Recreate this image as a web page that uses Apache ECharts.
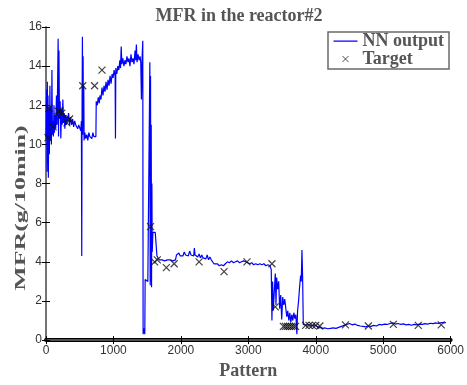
<!DOCTYPE html>
<html>
<head>
<meta charset="utf-8">
<script src="https://cdn.jsdelivr.net/npm/echarts@6/dist/echarts.min.js"></script>
<style>
  html, body { margin: 0; padding: 0; background: #fff; }
  #chart { width: 467px; height: 385px; }
</style>
</head>
<body>
<div id="chart"></div>
<script>
// NN output as [pattern, MFR]
const nnOutput = [
  [0, 10.3], [10, 12.8], [15, 8.6], [20, 13.2], [25, 9.0], [30, 12.5], [35, 8.3], [42, 11.8],
  [50, 9.5], [58, 13.0], [65, 10.2], [72, 11.9], [80, 10.0], [88, 13.8], [95, 10.5], [102, 11.2],
  [110, 10.4], [118, 12.0], [125, 10.6], [135, 11.5], [145, 10.8], [155, 12.5], [165, 11.0],
  [175, 14.0], [180, 15.4], [186, 10.4], [192, 14.8], [200, 11.3], [210, 12.2], [220, 10.3],
  [230, 11.8], [240, 11.0], [250, 12.3], [260, 11.1], [270, 11.6], [280, 10.8], [290, 11.5],
  [300, 11.0], [310, 11.4], [320, 11.2], [335, 11.6], [350, 11.0], [365, 11.4], [380, 11.0],
  [395, 11.3], [410, 10.9], [425, 11.2], [440, 11.0], [455, 11.1], [470, 10.8], [485, 11.0],
  [500, 10.9], [515, 10.7], [525, 11.2], [530, 4.3], [535, 12.0], [540, 15.5], [545, 10.5],
  [550, 14.5], [555, 11.0], [560, 13.0], [565, 10.2], [575, 10.6], [590, 10.3], [605, 10.5],
  [620, 10.2], [635, 10.6], [650, 10.4], [665, 10.5], [680, 10.3], [695, 10.6], [710, 10.4],
  [725, 10.5], [740, 10.4], [745, 12.2], [760, 12.0], [775, 12.4], [790, 12.1], [800, 12.5],
  [815, 12.3], [830, 12.9], [845, 12.5], [860, 13.0], [875, 12.7], [890, 13.2], [905, 12.8],
  [920, 13.3], [935, 13.0], [950, 13.5], [965, 13.1], [980, 13.6], [995, 13.4], [1010, 13.8],
  [1025, 13.5], [1030, 10.3], [1035, 13.9], [1050, 13.6], [1065, 14.0], [1080, 13.8], [1095, 14.3],
  [1105, 13.9], [1115, 15.0], [1125, 14.1], [1140, 14.4], [1155, 14.0], [1170, 14.3], [1185, 14.1],
  [1200, 14.5], [1215, 14.2], [1230, 14.4], [1245, 14.0], [1260, 14.6], [1275, 14.2], [1290, 14.4],
  [1305, 14.1], [1320, 14.8], [1330, 14.3], [1340, 15.1], [1350, 14.2], [1365, 14.6], [1380, 14.3],
  [1395, 14.5], [1405, 14.2], [1415, 12.3], [1425, 14.4], [1435, 15.3], [1440, 0.3], [1455, 0.6],
  [1465, 0.3], [1470, 3.1], [1490, 3.2], [1510, 3.0], [1530, 3.1], [1540, 14.2], [1545, 2.8],
  [1550, 13.5], [1555, 3.0], [1560, 11.0], [1565, 2.7], [1570, 8.0], [1575, 4.5], [1585, 5.5],
  [1600, 5.5], [1620, 5.5], [1635, 5.4], [1645, 4.3], [1660, 4.2], [1680, 4.1], [1700, 4.2],
  [1720, 4.1], [1740, 4.15], [1760, 4.05], [1780, 4.15], [1800, 4.1], [1820, 4.2], [1840, 4.1],
  [1860, 4.15], [1880, 4.05], [1900, 4.15], [1920, 4.1], [1935, 4.35], [1950, 4.3], [1970, 4.45],
  [1990, 4.3], [2010, 4.4], [2030, 4.3], [2050, 4.5], [2070, 4.35], [2090, 4.4], [2110, 4.3],
  [2130, 4.55], [2150, 4.35], [2170, 4.45], [2190, 4.3], [2200, 4.7], [2210, 4.35], [2230, 4.4],
  [2250, 4.25], [2270, 4.4], [2290, 4.2], [2310, 4.35], [2330, 4.2], [2350, 4.3], [2370, 4.15],
  [2390, 4.35], [2410, 4.1], [2430, 4.25], [2450, 4.1], [2470, 4.0], [2490, 3.9], [2510, 3.85],
  [2540, 3.9], [2570, 3.8], [2600, 3.85], [2630, 3.8], [2660, 3.9], [2690, 4.0], [2720, 3.95],
  [2750, 4.05], [2780, 3.95], [2810, 4.0], [2840, 4.05], [2870, 3.95], [2900, 4.0], [2930, 4.05],
  [2960, 4.0], [2990, 3.95], [3020, 3.9], [3050, 3.95], [3080, 3.85], [3110, 3.9], [3140, 3.85],
  [3170, 3.9], [3200, 3.85], [3230, 3.9], [3260, 3.8], [3290, 3.85], [3320, 3.8], [3340, 3.6],
  [3350, 1.0], [3360, 3.0], [3370, 1.5], [3385, 2.5], [3400, 3.4], [3410, 1.8], [3420, 3.2],
  [3435, 2.6], [3450, 3.0], [3465, 1.6], [3480, 2.3], [3495, 1.05], [3510, 2.2], [3525, 1.8],
  [3540, 2.1], [3555, 2.0], [3570, 1.2], [3585, 1.5], [3600, 1.0], [3615, 1.4], [3630, 0.9],
  [3645, 1.3], [3660, 1.0], [3675, 1.4], [3690, 1.1], [3705, 1.3], [3720, 0.3], [3730, 1.5],
  [3745, 2.0], [3760, 2.7], [3775, 3.3], [3785, 3.0], [3795, 4.6], [3805, 3.2], [3815, 0.8],
  [3830, 0.8], [3860, 0.75], [3900, 0.8], [3940, 0.72], [3980, 0.78], [4020, 0.7], [4060, 0.65],
  [4100, 0.6], [4140, 0.62], [4180, 0.58], [4220, 0.6], [4260, 0.62], [4300, 0.6], [4340, 0.65],
  [4380, 0.7], [4420, 0.75], [4460, 0.8], [4500, 0.85], [4540, 0.78], [4580, 0.82], [4620, 0.75],
  [4660, 0.72], [4700, 0.7], [4740, 0.68], [4780, 0.72], [4820, 0.7], [4860, 0.75], [4900, 0.72],
  [4940, 0.8], [4980, 0.78], [5020, 0.82], [5060, 0.8], [5100, 0.85], [5140, 0.88], [5180, 0.82],
  [5220, 0.85], [5260, 0.8], [5300, 0.83], [5340, 0.78], [5380, 0.8], [5420, 0.76], [5460, 0.8],
  [5500, 0.78], [5540, 0.82], [5580, 0.8], [5620, 0.84], [5660, 0.82], [5700, 0.86], [5740, 0.84],
  [5780, 0.88], [5820, 0.85], [5860, 0.9], [5900, 0.88], [5930, 0.9]
]

// measured targets
const target = [
  [30, 10.35], [45, 11.85], [105, 10.9], [180, 11.7], [205, 11.7], [235, 11.6], [310, 11.1],
  [350, 11.3], [545, 13.0], [720, 13.0], [830, 13.8], [1550, 5.8], [1610, 4.0], [1650, 4.1],
  [1785, 3.7], [1900, 3.9], [2270, 4.0], [2640, 3.5], [2980, 4.0], [3350, 3.9], [3400, 1.7],
  [3520, 0.7], [3550, 0.7], [3580, 0.7], [3610, 0.7], [3640, 0.7], [3670, 0.7], [3700, 0.7],
  [3850, 0.75], [3900, 0.75], [3950, 0.75], [4000, 0.75], [4060, 0.72], [4440, 0.78],
  [4780, 0.72], [5150, 0.8], [5520, 0.75], [5860, 0.78]
]

const seriesNames = ['NN output', 'Target']
const xTicks = [0, 1000, 2000, 3000, 4000, 5000, 6000]
const yTicks = [0, 2, 4, 6, 8, 10, 12, 14, 16]

const crossPath = 'path://M0,0L10,10M10,0L0,10'
const serif = '"Liberation Serif", "Times New Roman", serif'
const sans = '"Liberation Sans", Arial, sans-serif'
const frame = '#6a6a6a'

const chart = echarts.init(document.getElementById('chart'))

chart.setOption({
  animation: false,
  backgroundColor: '#fff',
  title: {
    text: 'MFR in the reactor#2',
    left: 234,
    top: 2,
    textAlign: 'center',
    textStyle: { fontFamily: serif, fontSize: 18, fontWeight: 'bold', color: '#555' },
  },
  // y label in the picture is stretched along its length
  graphic: [{
    type: 'text',
    x: 21,
    y: 208,
    rotation: Math.PI / 2,
    scaleX: 1.85,
    style: {
      text: 'MFR(g/10min)',
      fontFamily: serif,
      fontSize: 14,
      fontWeight: 'bold',
      fill: '#555',
      align: 'center',
      verticalAlign: 'middle',
    },
  }],
  grid: { left: 46, right: 14, top: 27, bottom: 37 },
  legend: {
    orient: 'vertical',
    left: 328,
    top: 32,
    padding: [0, 5, 1, 3],
    itemGap: 0,
    itemWidth: 24,
    itemHeight: 10,
    borderColor: frame,
    borderWidth: 1.5,
    borderRadius: 0,
    backgroundColor: '#fff',
    textStyle: { fontFamily: serif, fontSize: 18, lineHeight: 16, fontWeight: 'bold', color: '#555', padding: [0, 0, 0, 0] },
    data: [
      { name: seriesNames[0], icon: 'path://M0,0h0.01v0.01h-0.01zM0,4.4h24v1.3h-24zM0,10h0.01v0.01h-0.01z', itemStyle: { color: '#0000ff' } },
      { name: seriesNames[1], icon: 'path://M0,0h0.01v0.01h-0.01zM9,2L15,8M15,2L9,8M24,10h0.01v0.01h-0.01z', itemStyle: { color: 'none', borderColor: '#222', borderWidth: 1 } },
    ],
  },
  xAxis: [
    {
      type: 'value',
      min: xTicks[0],
      max: xTicks[xTicks.length - 1],
      interval: 1000,
      name: 'Pattern',
      nameLocation: 'middle',
      nameGap: 21,
      nameTextStyle: { fontFamily: serif, fontSize: 18, fontWeight: 'bold', color: '#555' },
      axisLine: { lineStyle: { color: '#000', width: 4 } },
      axisTick: { inside: true, length: 4, lineStyle: { color: '#000' } },
      axisLabel: { fontFamily: sans, fontSize: 12, color: '#333', margin: 5, formatter: (v) => String(v) },
      splitLine: { show: false },
    },
    {
      type: 'value',
      position: 'top',
      min: xTicks[0],
      max: xTicks[xTicks.length - 1],
      interval: 1000,
      axisLine: { lineStyle: { color: frame, width: 1.5 } },
      axisTick: { inside: true, length: 4, lineStyle: { color: '#000' } },
      axisLabel: { show: false },
      splitLine: { show: false },
    },
  ],
  yAxis: [
    {
      type: 'value',
      min: yTicks[0],
      max: yTicks[yTicks.length - 1],
      interval: 2,
      axisLine: { show: true, lineStyle: { color: frame, width: 1.5 } },
      axisTick: { show: true, inside: true, length: 4, lineStyle: { color: '#000' } },
      axisLabel: { fontFamily: sans, fontSize: 12, color: '#333', margin: 4 },
      splitLine: { show: false },
    },
    {
      type: 'value',
      position: 'right',
      min: yTicks[0],
      max: yTicks[yTicks.length - 1],
      interval: 2,
      axisLine: { show: true, lineStyle: { color: frame, width: 1.5 } },
      axisTick: { show: true, inside: true, length: 4, lineStyle: { color: '#000' } },
      axisLabel: { show: false },
      splitLine: { show: false },
    },
  ],
  series: [
    {
      name: seriesNames[0],
      type: 'line',
      data: nnOutput,
      showSymbol: false,
      symbol: 'none',
      lineStyle: { color: '#0000ff', width: 1.2 },
      itemStyle: { color: '#0000ff' },
      z: 2,
    },
    {
      name: seriesNames[1],
      type: 'scatter',
      data: target,
      symbol: crossPath,
      symbolSize: 7,
      itemStyle: { color: 'none', borderColor: '#111', borderWidth: 1.2 },
      z: 3,
    },
  ],
})
</script>
</body>
</html>
